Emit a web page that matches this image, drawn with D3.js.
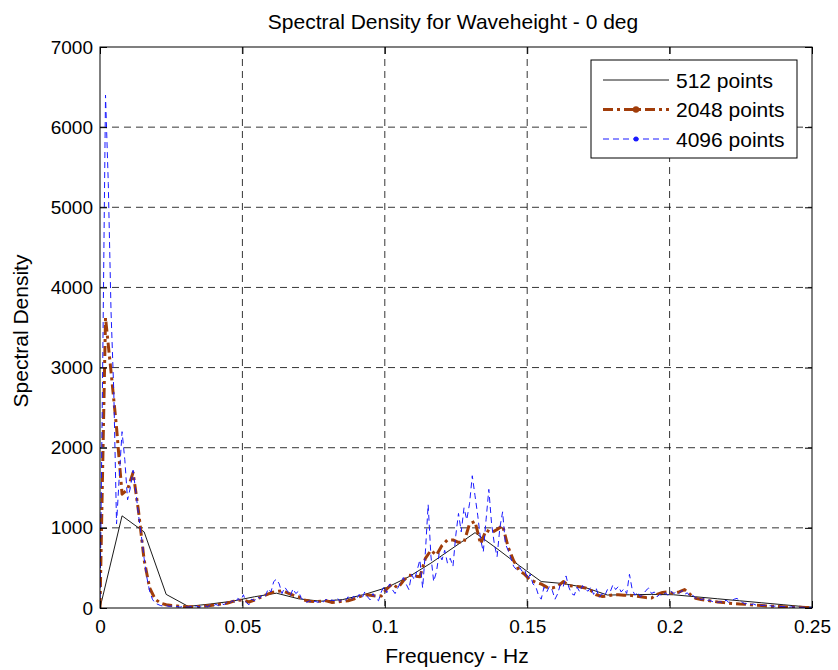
<!DOCTYPE html>
<html>
<head>
<meta charset="utf-8">
<script src="https://cdn.jsdelivr.net/npm/d3@7/dist/d3.min.js"></script>
<style>
  html, body { margin: 0; padding: 0; background: #fff; }
  svg { display: block; font-family: "Liberation Sans", Arial, Helvetica, sans-serif; }
</style>
</head>
<body>
<svg id="chart" width="838" height="670"></svg>
<script>
// Spectral density estimates of wave height for three FFT segment lengths.
// Each series is sampled on a uniform frequency grid starting at 0 Hz.
const df512 = 0.007746;          // frequency step, 512-point segments
const df2048 = df512 / 4;        // 2048-point segments
const df4096 = df512 / 8;        // 4096-point segments

const psd512 = [0, 1150, 950, 170, 20, 50, 85, 140, 185, 115, 85, 105, 170, 255, 390, 560,
  750, 940, 740, 530, 330, 305, 255, 162, 165, 170, 165, 140, 115, 90, 65, 40, 15, 2];

const psd2048 = [0, 3620, 2950, 2250, 1420, 1480, 1690, 1200, 600, 250,
  110, 60, 40, 30, 25, 20, 15, 15, 20, 25,
  30, 40, 50, 60, 80, 95, 100, 75, 100, 130,
  160, 190, 205, 215, 190, 160, 140, 100, 85, 80,
  85, 90, 70, 75, 85, 90, 110, 140, 165, 160,
  150, 150, 240, 300, 250, 340, 410, 400, 390, 620,
  720, 660, 780, 850, 850, 820, 820, 1050, 1080, 800,
  970, 940, 980, 1030, 760, 590, 470, 420, 350, 320,
  300, 260, 250, 270, 330, 280, 270, 265, 250, 220,
  165, 145, 150, 165, 165, 160, 160, 150, 140, 130,
  125, 170, 195, 200, 180, 200, 230, 170, 120, 105,
  95, 85, 75, 70, 60, 55, 50, 48, 40, 35,
  30, 25, 22, 18, 15, 12, 10, 8, 6, 5, 4];

const psd4096 = [0, 3100, 6400, 5300, 3700, 2700, 1050, 1650, 2200, 1850,
  1350, 1500, 1720, 1450, 1150, 900, 620, 380, 210, 110,
  60, 45, 30, 25, 30, 20, 25, 15, 20, 10,
  20, 15, 10, 20, 15, 25, 10, 20, 30, 15,
  35, 25, 45, 30, 60, 40, 75, 55, 95, 60,
  120, 90, 165, 70, 40, 110, 90, 140, 120, 170,
  150, 240, 200, 330, 360, 300, 180, 260, 210, 150,
  240, 180, 210, 120, 100, 70, 90, 60, 85, 70,
  95, 75, 110, 80, 100, 90, 130, 80, 110, 95,
  140, 100, 150, 110, 170, 120, 200, 140, 100, 180,
  120, 90, 200, 270, 190, 300, 230, 180, 250, 320,
  380, 300, 230, 420, 350, 470, 600, 250, 700, 1290,
  650, 330, 450, 680, 600, 720, 560, 620, 520, 900,
  1180, 950, 1250, 1100, 1300, 1650, 1400, 1150, 860, 700,
  1100, 1480, 1050, 800, 640, 1000, 1200, 800, 720, 620,
  520, 480, 520, 460, 480, 360, 420, 300, 270, 160,
  110, 260, 200, 270, 220, 110, 180, 300, 270, 400,
  260, 180, 160, 260, 200, 280, 230, 210, 260, 170,
  240, 130, 180, 150, 230, 200, 290, 230, 270, 200,
  240, 180, 420, 230, 160, 200, 140, 170, 220, 250,
  180, 200, 140, 170, 150, 190, 160, 210, 180, 200,
  180, 220, 170, 190, 140, 160, 120, 140, 100, 120,
  90, 100, 80, 90, 70, 80, 60, 100, 70, 90,
  110, 120, 90, 70, 50, 60, 40, 50, 35, 40,
  30, 35, 25, 30, 20, 25, 15, 20, 15, 20,
  10, 15, 10, 12, 8, 10, 6, 8, 5, 6];

const xTicks = [0, 0.05, 0.1, 0.15, 0.2, 0.25];
const xTickLabels = ["0", "0.05", "0.1", "0.15", "0.2", "0.25"];
const yTicks = [0, 1000, 2000, 3000, 4000, 5000, 6000, 7000];

const seriesNames = ["512 points", "2048 points", "4096 points"];
const titleText = "Spectral Density for Waveheight - 0 deg";
const xLabelText = "Frequency - Hz";
const yLabelText = "Spectral Density";

const series = [
  { name: seriesNames[0], df: df512, values: psd512, color: "#000000", width: 0.9, dash: null, marker: false },
  { name: seriesNames[1], df: df2048, values: psd2048, color: "#a13d0a", width: 3, dash: "10,4,3,4", marker: true },
  { name: seriesNames[2], df: df4096, values: psd4096, color: "#1a1aff", width: 1, dash: "6,4", marker: true }
];

const svg = d3.select("#chart");
const plot = { left: 100, right: 812, top: 47, bottom: 608 };

const x = d3.scaleLinear().domain([0, 0.25]).range([plot.left, plot.right]);
const y = d3.scaleLinear().domain([0, 7000]).range([plot.bottom, plot.top]);

svg.append("defs").append("clipPath").attr("id", "plotClip")
  .append("rect")
  .attr("x", plot.left).attr("y", plot.top)
  .attr("width", plot.right - plot.left).attr("height", plot.bottom - plot.top);

// grid
const grid = svg.append("g").attr("class", "grid");
grid.selectAll("line.gx").data(xTicks.slice(1, -1)).join("line")
  .attr("x1", d => x(d)).attr("x2", d => x(d))
  .attr("y1", plot.top).attr("y2", plot.bottom)
  .attr("stroke", "#000").attr("stroke-width", 0.8).attr("stroke-dasharray", "7,5");
grid.selectAll("line.gy").data(yTicks.slice(1, -1)).join("line")
  .attr("x1", plot.left).attr("x2", plot.right)
  .attr("y1", d => y(d)).attr("y2", d => y(d))
  .attr("stroke", "#000").attr("stroke-width", 0.8).attr("stroke-dasharray", "7,5");

// data lines
const lines = svg.append("g").attr("clip-path", "url(#plotClip)");
series.forEach(s => {
  const line = d3.line()
    .x((d, i) => x(i * s.df))
    .y(d => y(d));
  lines.append("path")
    .datum(s.values)
    .attr("d", line)
    .attr("fill", "none")
    .attr("stroke", s.color)
    .attr("stroke-width", s.width)
    .attr("stroke-linejoin", "round")
    .attr("stroke-dasharray", s.dash);
});

// axes (ticks inside on all four sides)
const tickLen = 7;
const axisBottom = d3.axisBottom(x).tickValues(xTicks).tickFormat((d, i) => xTickLabels[i]).tickSizeInner(-tickLen).tickSizeOuter(0).tickPadding(12);
const axisTop = d3.axisTop(x).tickValues(xTicks).tickFormat("").tickSizeInner(-tickLen).tickSizeOuter(0);
const axisLeft = d3.axisLeft(y).tickValues(yTicks).tickFormat(d3.format("d")).tickSizeInner(-tickLen).tickSizeOuter(0).tickPadding(7);
const axisRight = d3.axisRight(y).tickValues(yTicks).tickFormat("").tickSizeInner(-tickLen).tickSizeOuter(0);

function styleAxis(g) {
  g.select(".domain").remove();
  g.selectAll(".tick line").attr("stroke", "#000").attr("stroke-width", 1);
  g.selectAll(".tick text").attr("fill", "#000").style("font-size", "19px");
}
svg.append("g").attr("transform", `translate(0,${plot.bottom})`).call(axisBottom).call(styleAxis);
svg.append("g").attr("transform", `translate(0,${plot.top})`).call(axisTop).call(styleAxis);
svg.append("g").attr("transform", `translate(${plot.left},0)`).call(axisLeft).call(styleAxis);
svg.append("g").attr("transform", `translate(${plot.right},0)`).call(axisRight).call(styleAxis);

// frame
svg.append("rect")
  .attr("x", plot.left).attr("y", plot.top)
  .attr("width", plot.right - plot.left).attr("height", plot.bottom - plot.top)
  .attr("fill", "none").attr("stroke", "#000").attr("stroke-width", 1);

// titles
svg.append("text").attr("x", 453).attr("y", 29)
  .attr("text-anchor", "middle").style("font-size", "21px").text(titleText);
svg.append("text").attr("x", 457).attr("y", 663)
  .attr("text-anchor", "middle").style("font-size", "21px").text(xLabelText);
svg.append("text").attr("transform", "translate(28,331) rotate(-90)")
  .attr("text-anchor", "middle").style("font-size", "21px").text(yLabelText);

// legend
const legend = svg.append("g").attr("transform", "translate(591,60)");
legend.append("rect").attr("width", 206).attr("height", 98)
  .attr("fill", "#fff").attr("stroke", "#000").attr("stroke-width", 1);
series.forEach((s, i) => {
  const yy = 20 + i * 29.5;
  legend.append("line")
    .attr("x1", 12).attr("x2", 78).attr("y1", yy).attr("y2", yy)
    .attr("stroke", s.color).attr("stroke-width", s.width)
    .attr("stroke-dasharray", s.dash);
  if (s.marker) {
    legend.append("circle").attr("cx", 45).attr("cy", yy).attr("r", i === 1 ? 3.2 : 2.5).attr("fill", s.color);
  }
  legend.append("text").attr("x", 85).attr("y", yy + 7.5)
    .style("font-size", "21px").text(s.name);
});
</script>
</body>
</html>
